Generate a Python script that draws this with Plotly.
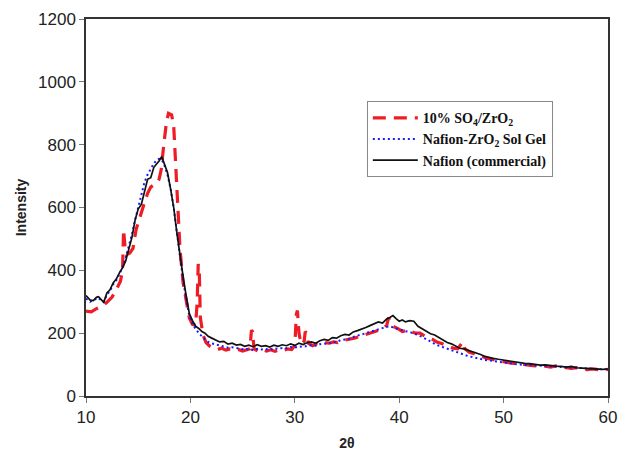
import plotly.graph_objects as go

# Nafion (commercial) - black solid
x_naf = [10, 10.4, 10.7, 11.0, 11.2, 11.45, 11.7, 12.0, 12.3, 12.6, 12.9, 13.2, 13.5, 13.8, 14.1, 14.4, 14.7,
         15.0, 15.3, 15.6, 15.9, 16.2, 16.5, 16.8, 17.0, 17.25, 17.5, 17.8, 18.1, 18.4, 18.7, 19.0, 19.3, 19.6,
         19.9, 20.2, 20.5, 20.8, 21.1, 21.4, 21.7, 22.0, 22.4, 22.8, 23.2, 23.6, 24.0, 24.4, 24.8, 25.2, 25.6,
         26.0, 26.4, 26.8, 27.2, 27.6, 28.0, 28.4, 28.8, 29.2, 29.6, 30.0, 30.4, 30.8, 31.2, 31.6, 32.0, 32.4,
         32.8, 33.2, 33.6, 34.0, 34.4, 34.8, 35.2, 35.6, 36.0, 36.4, 36.8, 37.2, 37.6, 38.0, 38.4, 38.8, 39.1,
         39.4, 39.7, 40.0, 40.3, 40.6, 41.0, 41.4, 41.8, 42.2, 42.6, 43.0, 43.4, 43.8, 44.2, 44.6, 45.0, 45.4,
         45.8, 46.2, 46.6, 47.0, 47.4, 47.8, 48.2, 48.6, 49.0, 49.5, 50.0, 50.5, 51.0, 51.5, 52.0, 52.5, 53.0,
         53.5, 54.0, 54.5, 55.0, 55.5, 56.0, 56.5, 57.0, 57.5, 58.0, 58.5, 59.0, 59.5, 60.0]
y_naf = [320, 305, 304, 314, 316, 308, 298, 328, 338, 360, 372, 392, 408, 430, 468, 505, 560,
         595, 610, 655, 690, 695, 728, 740, 748, 762, 740, 712, 660, 600, 520, 445, 380, 318,
         262, 240, 222, 215, 205, 200, 190, 185, 178, 172, 174, 165, 168, 162, 164, 158, 162,
         157, 163, 158, 160, 156, 162, 158, 163, 160, 166, 161, 168, 164, 170, 172, 168, 176,
         180, 177, 186, 184, 192, 196, 194, 204, 208, 212, 218, 224, 230, 236, 232, 245, 250,
         256, 246, 238, 242, 236, 240, 238, 222, 214, 208, 198, 194, 186, 180, 170, 166, 160,
         152, 150, 146, 142, 136, 132, 126, 124, 120, 117, 114, 112, 108, 106, 104, 103, 100,
         98, 99, 96, 95, 94, 92, 94, 90, 89, 88, 86, 87, 85, 86]

# Nafion-ZrO2 Sol Gel - blue dotted
x_sg = x_naf
y_sg = [310, 300, 305, 308, 312, 305, 300, 322, 335, 355, 368, 388, 410, 440, 475, 515, 560,
        600, 635, 680, 705, 725, 740, 752, 755, 752, 735, 705, 660, 600, 520, 440, 370, 305,
        255, 228, 212, 200, 190, 180, 172, 168, 165, 160, 158, 154, 155, 152, 150, 148, 150,
        146, 150, 148, 150, 147, 152, 150, 153, 152, 156, 154, 158, 156, 160, 162, 160, 165,
        167, 166, 172, 172, 178, 180, 182, 188, 192, 196, 200, 204, 208, 214, 216, 220, 222,
        218, 216, 212, 210, 206, 204, 200, 194, 188, 180, 172, 166, 160, 155, 150, 146, 140,
        135, 130, 127, 124, 120, 118, 115, 113, 112, 110, 106, 104, 102, 100, 99, 98, 96,
        95, 95, 93, 92, 92, 90, 90, 88, 88, 87, 86, 86, 85, 85]

# 10% SO4/ZrO2 - red dashed
x_so4 = [10.0, 10.5, 11.0, 11.5, 12.0, 12.5, 13.0, 13.3, 13.5, 13.6, 13.75, 13.9, 14.2, 14.5, 14.8, 15.1,
         15.5, 15.9, 16.2, 16.5, 16.8, 17.0, 17.2, 17.45, 17.7, 17.9, 18.2, 18.4, 18.6, 18.8, 19.0, 19.3,
         19.6, 19.9, 20.2, 20.5, 20.65, 20.75, 20.85, 20.95, 21.2, 21.5, 21.8, 22.2, 22.6, 23.0, 23.4, 23.8,
         24.2, 24.6, 25.0, 25.4, 25.7, 25.85, 25.95, 26.1, 26.5, 26.9, 27.3, 27.7, 28.1, 28.5, 28.9, 29.3,
         29.7, 30.0, 30.15, 30.25, 30.4, 30.6, 30.9, 31.0, 31.15, 31.3, 31.7, 32.1, 32.5, 32.9, 33.3, 33.7,
         34.1, 34.5, 34.9, 35.3, 35.7, 36.1, 36.5, 36.9, 37.3, 37.7, 38.1, 38.5, 38.8, 39.0, 39.15, 39.4,
         39.7, 40.0, 40.3, 40.6, 40.9, 41.2, 41.6, 42.0, 42.4, 42.8, 43.2, 43.6, 44.0, 44.4, 44.8, 45.2,
         45.6, 45.9, 46.1, 46.3, 46.7, 47.1, 47.5, 47.9, 48.3, 48.7, 49.1, 49.5, 50.0, 50.5, 51.0, 51.5,
         52.0, 52.5, 53.0, 53.5, 54.0, 54.5, 55.0, 55.5, 56.0, 56.5, 57.0, 57.5, 58.0, 58.5, 59.0, 59.5, 60.0]
y_so4 = [270, 268, 278, 285, 298, 315, 345, 365, 400, 530, 470, 450, 455, 470, 530, 565,
         605, 645, 665, 672, 678, 690, 720, 800, 870, 900, 895, 860, 740, 620, 470, 360,
         300, 248, 228, 225, 300, 420, 400, 250, 195, 170, 160, 152, 148, 152, 146, 150,
         145, 148, 143, 146, 150, 210, 205, 150, 142, 148, 143, 147, 142, 148, 145, 150,
         148, 160, 260, 272, 200, 165, 175, 205, 200, 168, 160, 166, 164, 170, 168, 172,
         170, 176, 178, 180, 184, 188, 192, 198, 200, 206, 210, 215, 225, 250, 232, 222,
         218, 212, 205, 208, 210, 204, 200, 200, 192, 184, 180, 172, 168, 162, 158, 152,
         150, 165, 172, 150, 140, 135, 130, 128, 120, 118, 115, 112, 108, 106, 104, 102,
         100, 98, 96, 98, 95, 92, 96, 92, 90, 88, 90, 86, 84, 86, 83, 82, 85]

x_ticks = [10, 20, 30, 40, 50, 60]
y_ticks = [0, 200, 400, 600, 800, 1000, 1200]

fig = go.Figure()
fig.add_trace(go.Scatter(x=x_so4, y=y_so4, mode="lines",
                         name="<b>10% SO<sub>4</sub>/ZrO<sub>2</sub></b>",
                         line=dict(color="#ee1c25", width=3.2, dash="13px,8px")))
fig.add_trace(go.Scatter(x=x_sg, y=y_sg, mode="lines",
                         name="<b>Nafion-ZrO<sub>2</sub> Sol Gel</b>",
                         line=dict(color="#1a1aff", width=2, dash="2px,3px")))
fig.add_trace(go.Scatter(x=x_naf, y=y_naf, mode="lines",
                         name="<b>Nafion (commercial)</b>",
                         line=dict(color="#111111", width=1.7)))

axis_common = dict(showline=True, linecolor="#333333", linewidth=1.5, mirror=True,
                   ticks="outside", ticklen=5, tickcolor="#777777", tickwidth=1,
                   showgrid=False, zeroline=False, automargin=False,
                   tickfont=dict(family="Liberation Sans, Arial", size=17, color="#222222"))

fig.update_layout(
    width=619, height=458,
    margin=dict(l=86, r=11, t=19, b=62),
    paper_bgcolor="white", plot_bgcolor="white",
    xaxis=dict(range=[10, 60], tickvals=x_ticks,
               title=dict(text="<b>2θ</b>", standoff=12,
                          font=dict(family="Liberation Sans, Arial", size=14, color="#222222")),
               **axis_common),
    yaxis=dict(range=[0, 1200], tickvals=y_ticks,
               title=dict(text="<b>Intensity</b>", standoff=8,
                          font=dict(family="Liberation Sans, Arial", size=14, color="#222222")),
               **axis_common),
    legend=dict(x=0.538, y=0.782, xanchor="left", yanchor="top",
                bordercolor="#888888", borderwidth=1, bgcolor="white",
                font=dict(family="Liberation Serif, Times New Roman", size=14, color="#111111"),
                itemwidth=45, tracegroupgap=0),
    showlegend=True,
)

fig.write_html("out.html")
